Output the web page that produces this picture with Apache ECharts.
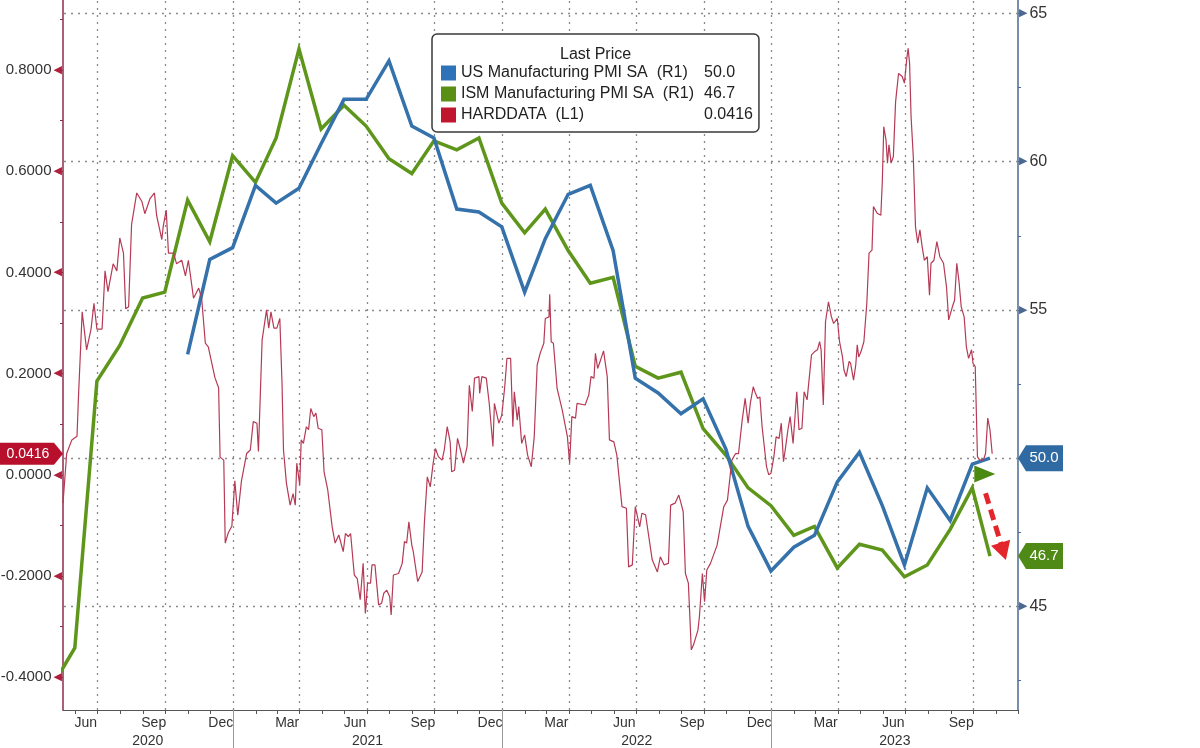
<!DOCTYPE html>
<html>
<head>
<meta charset="utf-8">
<title>US Manufacturing PMI vs HARDDATA</title>
<script src="https://cdn.jsdelivr.net/npm/echarts@6.0.0/dist/echarts.min.js"></script>
<style>
    html, body { margin: 0; padding: 0; background: #fff; }
    #main { width: 1200px; height: 748px; }
</style>
</head>
<body>
<div id="main"></div>
<script>
    var FONT = '"Liberation Sans", Arial, sans-serif';

    // monthly PMI prints, plotted at month end (the last one is the October flash)
    var pmiDates = [
        '2020-04-30', '2020-05-31', '2020-06-30', '2020-07-31', '2020-08-31', '2020-09-30',
        '2020-10-31', '2020-11-30', '2020-12-31',
        '2021-01-31', '2021-02-28', '2021-03-31', '2021-04-30', '2021-05-31', '2021-06-30',
        '2021-07-31', '2021-08-31', '2021-09-30', '2021-10-31', '2021-11-30', '2021-12-31',
        '2022-01-31', '2022-02-28', '2022-03-31', '2022-04-30', '2022-05-31', '2022-06-30',
        '2022-07-31', '2022-08-31', '2022-09-30', '2022-10-31', '2022-11-30', '2022-12-31',
        '2023-01-31', '2023-02-28', '2023-03-31', '2023-04-30', '2023-05-31', '2023-06-30',
        '2023-07-31', '2023-08-31', '2023-09-30', '2023-10-24'
    ];
    var ismValues = [
        42.3, 43.6, 52.6, 53.8, 55.4, 55.6, 58.7, 57.3, 60.2,
        59.3, 60.8, 63.8, 61.1, 61.9, 61.2, 60.1, 59.6, 60.7, 60.4, 60.8, 58.6,
        57.6, 58.4, 57.0, 55.9, 56.1, 53.1, 52.7, 52.9, 51.0, 50.1, 49.0, 48.4,
        47.4, 47.7, 46.3, 47.1, 46.9, 46.0, 46.4, 47.6, 49.0, 46.7
    ];
    // US (S&P) series starts with the Oct 2020 print
    var usFirst = 6;
    var usValues = [
        53.5, 56.7, 57.1,
        59.2, 58.6, 59.1, 60.6, 62.1, 62.1, 63.4, 61.2, 60.8, 58.4, 58.3, 57.8,
        55.6, 57.4, 58.9, 59.2, 57.0, 52.7, 52.2, 51.5, 52.0, 50.3, 47.7, 46.2,
        47.0, 47.4, 49.2, 50.2, 48.4, 46.4, 49.0, 47.9, 49.8, 50.0
    ];

    // HARDDATA: days after hardStart / value
    var hardStart = '2020-05-15';
    var hardDays = [
        0, 5, 12, 19, 21, 26, 32, 38, 42, 46, 53, 57, 61, 68, 73, 77, 82, 85, 89, 93,
        100, 107, 111, 118, 124, 127, 134, 136, 140, 143, 150, 154, 161, 166, 170, 177, 184, 188, 193, 197,
        206, 211, 213, 218, 220, 224, 229, 233, 237, 242, 249, 254, 258, 263, 265, 270, 272, 276, 279, 282,
        286, 290, 294, 297, 299, 303, 308, 312, 315, 317, 321, 323, 326, 330, 333, 336, 340, 343, 346, 351,
        354, 359, 365, 369, 374, 380, 383, 387, 390, 395, 399, 403, 407, 410, 413, 417, 419, 423, 428, 432,
        435, 439, 443, 445, 448, 455, 460, 463, 466, 469, 473, 475, 481, 487, 490, 494, 498, 502, 505, 509,
        514, 517, 521, 525, 527, 531, 535, 539, 543, 548, 551, 555, 558, 564, 565, 568, 574, 578, 583, 585,
        591, 595, 599, 602, 607, 610, 612, 616, 618, 622, 626, 630, 635, 639, 643, 647, 652, 654, 659, 660,
        662, 665, 670, 677, 684, 687, 690, 695, 697, 708, 713, 716, 720, 722, 725, 729, 733, 738, 741, 747,
        751, 758, 764, 767, 772, 776, 782, 785, 790, 799, 806, 810, 815, 821, 824, 830, 835, 838, 841, 844,
        848, 852, 855, 861, 863, 867, 870, 873, 878, 887, 896, 901, 907, 912, 916, 921, 925, 929, 932, 936,
        939, 942, 945, 948, 950, 954, 957, 960, 964, 967, 971, 974, 977, 980, 983, 986, 990, 995, 998, 1002,
        1005, 1009, 1015, 1019, 1023, 1026, 1028, 1031, 1034, 1038, 1042, 1045, 1050, 1053, 1057, 1059, 1062, 1066, 1068, 1072,
        1075, 1077, 1079, 1082, 1086, 1090, 1093, 1097, 1099, 1104, 1109, 1111, 1113, 1116, 1118, 1120, 1123, 1126, 1129, 1133,
        1138, 1141, 1144, 1146, 1148, 1150, 1153, 1156, 1159, 1162, 1165, 1168, 1172, 1175, 1177, 1181, 1185, 1189, 1194, 1198,
        1201, 1206, 1209, 1212, 1215, 1218, 1222, 1225, 1228, 1232, 1234, 1237, 1240, 1243, 1248, 1251, 1254, 1257, 1260
    ];
    var hardValues = [
        -0.056, 0.042, 0.069, 0.076, 0.155, 0.322, 0.247, 0.288, 0.339, 0.288, 0.288, 0.403, 0.362, 0.417, 0.403, 0.468, 0.438, 0.328, 0.332, 0.495,
        0.557, 0.540, 0.516, 0.546, 0.557, 0.512, 0.465, 0.492, 0.523, 0.438, 0.438, 0.417, 0.424, 0.393, 0.424, 0.349, 0.369, 0.349, 0.260, 0.253,
        0.192, 0.172, 0.035, 0.029, -0.135, -0.115, -0.101, -0.012, -0.080, -0.012, 0.042, 0.049, 0.105, 0.102, 0.046, 0.266, 0.263, 0.326, 0.290, 0.322,
        0.290, 0.290, 0.309, 0.181, 0.049, -0.017, -0.060, -0.037, -0.060, 0.023, -0.020, 0.069, 0.062, 0.095, 0.089, 0.131, 0.115, 0.122, 0.092, 0.089,
        0.006, -0.030, -0.103, -0.135, -0.119, -0.152, -0.116, -0.122, -0.116, -0.198, -0.205, -0.247, -0.175, -0.274, -0.214, -0.214, -0.178, -0.178, -0.257, -0.254,
        -0.234, -0.228, -0.241, -0.277, -0.198, -0.195, -0.175, -0.132, -0.135, -0.093, -0.139, -0.152, -0.211, -0.192, -0.096, -0.004, -0.024, 0.023, 0.052, 0.036,
        0.029, 0.049, 0.095, 0.065, 0.006, 0.009, 0.072, 0.049, 0.023, 0.056, 0.177, 0.125, 0.191, 0.194, 0.161, 0.194, 0.191, 0.141, 0.056, 0.141,
        0.102, 0.118, 0.174, 0.230, 0.230, 0.095, 0.164, 0.108, 0.135, 0.062, 0.079, 0.039, 0.016, 0.075, 0.217, 0.240, 0.260, 0.309, 0.312, 0.357,
        0.263, 0.260, 0.171, 0.128, 0.075, 0.023, 0.115, 0.112, 0.141, 0.138, 0.158, 0.194, 0.191, 0.240, 0.210, 0.227, 0.245, 0.194, 0.069, 0.065,
        0.039, -0.063, -0.066, -0.182, -0.178, -0.063, -0.103, -0.076, -0.079, -0.168, -0.192, -0.162, -0.178, -0.175, -0.060, -0.056, -0.040, -0.056, -0.073, -0.195,
        -0.214, -0.346, -0.336, -0.307, -0.280, -0.195, -0.251, -0.188, -0.175, -0.139, -0.063, -0.050, 0.029, 0.042, 0.042, 0.108, 0.151, 0.102, 0.141, 0.174,
        0.161, 0.151, 0.154, 0.095, 0.092, 0.016, 0.000, 0.003, 0.036, 0.075, 0.072, 0.102, 0.026, 0.056, 0.089, 0.115, 0.062, 0.164, 0.089, 0.092,
        0.164, 0.148, 0.237, 0.243, 0.247, 0.263, 0.247, 0.138, 0.303, 0.342, 0.312, 0.299, 0.309, 0.263, 0.233, 0.207, 0.194, 0.224, 0.220, 0.187,
        0.217, 0.257, 0.233, 0.243, 0.263, 0.339, 0.438, 0.444, 0.530, 0.517, 0.513, 0.579, 0.688, 0.662, 0.616, 0.652, 0.616, 0.629, 0.737, 0.793,
        0.787, 0.774, 0.820, 0.843, 0.813, 0.708, 0.629, 0.490, 0.458, 0.484, 0.451, 0.424, 0.431, 0.355, 0.418, 0.424, 0.461, 0.431, 0.418, 0.372,
        0.306, 0.332, 0.345, 0.418, 0.382, 0.332, 0.312, 0.253, 0.230, 0.247, 0.220, 0.214, 0.036, 0.029, 0.029, 0.042, 0.112, 0.089, 0.0416
    ];

    // hand-drawn marks at the end of the ISM line
    var arrowFrom = ['2023-10-18', 48.82];
    var arrowTo = ['2023-11-11', 46.86];
    var flagPoint = ['2023-10-17', 49.47];

    // axes
    var xMin = '2020-05-15';
    var xMax = '2023-12-01';
    var monthNames = ['Jan', 'Feb', 'Mar', 'Apr', 'May', 'Jun', 'Jul', 'Aug', 'Sep', 'Oct', 'Nov', 'Dec'];
    var yearMid = ['2020-09-07', '2021-07-02', '2022-07-02', '2023-06-17'];
    var leftLabels = [-0.4, -0.2, 0, 0.2, 0.4, 0.6, 0.8];
    var leftTicks = [-0.4, -0.3, -0.2, -0.1, 0, 0.1, 0.2, 0.3, 0.4, 0.5, 0.6, 0.7, 0.8, 0.9];
    var leftMin = -0.4648, leftMax = 0.9383;
    var rightLabels = [45, 55, 60, 65];
    var rightTicks = [42.5, 45, 47.5, 50, 52.5, 55, 57.5, 60, 62.5, 65];
    var rightGrid = [45, 50, 55, 60, 65];
    var rightMin = 41.51, rightMax = 65.45;

    var names = ['US Manufacturing PMI SA  (R1)', 'ISM Manufacturing PMI SA  (R1)', 'HARDDATA  (L1)'];
    var colors = {blue: '#3572ab', green: '#5e961c', red: '#b53a55'};

    var GRID = {left: 63, right: 182, top: 0, bottom: 38};
    var W = 1200, H = 748;

    function day(s) { return new Date(s + 'T00:00:00').getTime(); }

    var monthTicks = [], quarterLines = [], quarterLabels = [], yearLines = [];
    for (var y = 2020; y <= 2023; y++) {
        for (var m = 0; m < 12; m++) {
            var t = new Date(y, m, 1).getTime();
            if (t >= day(xMin) && t <= day(xMax)) {
                monthTicks.push(t);
                if (m % 3 === 0) quarterLines.push(t);
                if (m === 0) yearLines.push(t);
            }
            var mid = new Date(y, m, 15).getTime();
            if (m % 3 === 2 && mid >= day(xMin) && mid <= day(xMax)) quarterLabels.push(mid);
        }
    }

    var ismData = pmiDates.map(function (d, i) { return [day(d), ismValues[i]]; });
    var usData = usValues.map(function (v, i) { return [day(pmiDates[usFirst + i]), v]; });
    var hardData = hardDays.map(function (d, i) { return [day(hardStart) + d * 864e5, hardValues[i]]; });

    var lastPrice = {};
    lastPrice[names[0]] = usValues[usValues.length - 1].toFixed(1);
    lastPrice[names[1]] = ismValues[ismValues.length - 1].toFixed(1);
    lastPrice[names[2]] = hardValues[hardValues.length - 1].toFixed(4);

    var chart = echarts.init(document.getElementById('main'), null, {renderer: 'canvas'});

    // dates are plain timestamps on value axes
    function xAxisBase(extra) {
        var base = {type: 'value', gridIndex: 0, position: 'bottom', min: day(xMin), max: day(xMax), splitLine: {show: false}};
        for (var k in extra) base[k] = extra[k];
        return base;
    }
    var dotted = {color: '#8a8a8a', width: 1.3, type: [2, 5]};

    var option = {
        animation: false,
        backgroundColor: '#fff',
        grid: {left: GRID.left, right: GRID.right, top: GRID.top, bottom: GRID.bottom, containLabel: false, outerBoundsMode: 'none'},
        title: {
            text: 'Last Price', left: 560, top: 47, padding: 0,
            textStyle: {fontFamily: FONT, fontSize: 16, fontWeight: 'normal', color: '#222'}
        },
        legend: {
            left: 432, top: 34, orient: 'vertical',
            padding: [31, 6, 9, 9],
            itemWidth: 15, itemHeight: 15, itemGap: 5,
            icon: 'rect',
            selectedMode: false,
            backgroundColor: '#fff', borderColor: '#3a3a3a', borderWidth: 1.5, borderRadius: 5,
            data: [
                {name: names[0], itemStyle: {color: '#2e73b8'}},
                {name: names[1], itemStyle: {color: '#5a8f16'}},
                {name: names[2], itemStyle: {color: '#c0172f'}}
            ],
            formatter: function (name) { return '{n|' + name + '}{v|' + lastPrice[name] + '}'; },
            textStyle: {
                fontFamily: FONT, fontSize: 16, color: '#222', lineHeight: 15,
                rich: {
                    n: {width: 243, fontFamily: FONT, fontSize: 16, color: '#222', lineHeight: 15},
                    v: {fontFamily: FONT, fontSize: 16, color: '#222', lineHeight: 15}
                }
            }
        },
        xAxis: [
            xAxisBase({
                axisLine: {onZero: false, lineStyle: {color: '#555', width: 1}},
                axisTick: {show: true, customValues: monthTicks, length: 4, lineStyle: {color: '#555'}},
                axisLabel: {
                    customValues: quarterLabels, margin: 6,
                    fontFamily: FONT, fontSize: 14, color: '#333',
                    formatter: function (v) { return monthNames[new Date(v).getMonth()]; }
                }
            }),
            xAxisBase({
                axisLine: {show: false, onZero: false},
                axisTick: {show: true, customValues: yearLines, length: 38, lineStyle: {color: '#999'}},
                axisLabel: {
                    customValues: yearMid.map(day), margin: 24,
                    fontFamily: FONT, fontSize: 14, color: '#333',
                    formatter: function (v) { return String(new Date(v).getFullYear()); }
                }
            }),
            xAxisBase({
                axisLine: {show: false, onZero: false},
                axisTick: {show: true, customValues: quarterLines, inside: true, length: H - GRID.top - GRID.bottom, lineStyle: dotted},
                axisLabel: {show: false}
            })
        ],
        yAxis: [
            {
                type: 'value', position: 'left', min: leftMin, max: leftMax,
                splitLine: {show: false},
                axisLine: {show: true, onZero: false, lineStyle: {color: '#8b2c48', width: 1.5}},
                axisTick: {show: true, customValues: leftTicks, length: 3, lineStyle: {color: '#8b2c48'}},
                axisLabel: {
                    customValues: leftLabels, margin: 1,
                    formatter: function (v) { return '{t|' + v.toFixed(4) + '}{a|◀}'; },
                    rich: {
                        t: {fontFamily: FONT, fontSize: 15, color: '#333'},
                        a: {fontFamily: 'DejaVu Sans', fontSize: 11, color: '#b0203c', padding: [0, 0, 0, 2]}
                    }
                }
            },
            {
                type: 'value', position: 'right', min: rightMin, max: rightMax,
                splitLine: {show: false},
                axisLine: {show: true, onZero: false, lineStyle: {color: '#4a6890', width: 1.5}},
                axisTick: {show: true, customValues: rightTicks, length: 3, lineStyle: {color: '#4a6890'}},
                axisLabel: {
                    customValues: rightLabels, margin: 1,
                    formatter: function (v) { return '{a|▶}{t|' + v + '}'; },
                    rich: {
                        t: {fontFamily: FONT, fontSize: 16, color: '#333'},
                        a: {fontFamily: 'DejaVu Sans', fontSize: 11, color: '#4a6890', padding: [0, 2, 0, 0]}
                    }
                }
            },
            {
                type: 'value', position: 'right', min: rightMin, max: rightMax,
                splitLine: {show: false},
                axisLine: {show: false, onZero: false},
                axisTick: {show: true, customValues: rightGrid, inside: true, length: W - GRID.left - GRID.right, lineStyle: dotted},
                axisLabel: {show: false}
            }
        ],
        series: [
            {
                name: names[1], type: 'line', xAxisIndex: 0, yAxisIndex: 1,
                data: ismData, showSymbol: false, symbol: 'none', z: 2,
                itemStyle: {color: '#5a8f16'},
                lineStyle: {color: colors.green, width: 3.5, join: 'miter'},
                markPoint: {
                    silent: true, animation: false,
                    symbol: 'triangle', symbolRotate: -90, symbolSize: [17, 21],
                    itemStyle: {color: '#4b8a12'},
                    label: {show: false},
                    data: [{coord: [day(flagPoint[0]), flagPoint[1]]}]
                },
                markLine: {
                    silent: true, animation: false,
                    symbol: ['none', 'triangle'], symbolSize: [20, 18],
                    label: {show: false},
                    lineStyle: {color: '#e3262b', width: 5, type: [11, 6]},
                    data: [[
                        {coord: [day(arrowFrom[0]), arrowFrom[1]]},
                        {coord: [day(arrowTo[0]), arrowTo[1]], itemStyle: {color: '#e3262b'}}
                    ]]
                }
            },
            {
                name: names[0], type: 'line', xAxisIndex: 0, yAxisIndex: 1,
                data: usData, showSymbol: false, symbol: 'none', z: 3,
                itemStyle: {color: '#2e73b8'},
                lineStyle: {color: colors.blue, width: 3.5, join: 'miter'}
            },
            {
                name: names[2], type: 'line', xAxisIndex: 0, yAxisIndex: 0,
                data: hardData, showSymbol: false, symbol: 'none', z: 4,
                itemStyle: {color: '#c0172f'},
                lineStyle: {color: colors.red, width: 1.2}
            }
        ]
    };
    chart.setOption(option);

    // last-price tags beside the axes, placed through the axis scales
    function rightTag(value, yAxisIndex, fill) {
        var x0 = W - GRID.right, yy = chart.convertToPixel({yAxisIndex: yAxisIndex}, value);
        return [
            {type: 'polygon', z: 100, shape: {points: [[x0, yy], [x0 + 8, yy - 13], [x0 + 45, yy - 13], [x0 + 45, yy + 13], [x0 + 8, yy + 13]]}, style: {fill: fill}},
            {type: 'text', z: 101, x: x0 + 26, y: yy, style: {text: value.toFixed(1), fill: '#fff', fontFamily: FONT, fontSize: 15, align: 'center', verticalAlign: 'middle', textAlign: 'center', textVerticalAlign: 'middle'}}
        ];
    }
    function leftTag(value, fill) {
        var x1 = GRID.left, yy = chart.convertToPixel({yAxisIndex: 0}, value);
        return [
            {type: 'polygon', z: 100, shape: {points: [[0, yy - 11], [x1 - 9, yy - 11], [x1, yy], [x1 - 9, yy + 11], [0, yy + 11]]}, style: {fill: fill}},
            {type: 'text', z: 101, x: 28, y: yy, style: {text: value.toFixed(4), fill: '#fff', fontFamily: FONT, fontSize: 14, align: 'center', verticalAlign: 'middle', textAlign: 'center', textVerticalAlign: 'middle'}}
        ];
    }
    chart.setOption({
        graphic: [].concat(
            rightTag(usValues[usValues.length - 1], 1, '#2f6aa3'),
            rightTag(ismValues[ismValues.length - 1], 1, '#4f8a16'),
            leftTag(hardValues[hardValues.length - 1], '#b8102c')
        )
    });
</script>
</body>
</html>
